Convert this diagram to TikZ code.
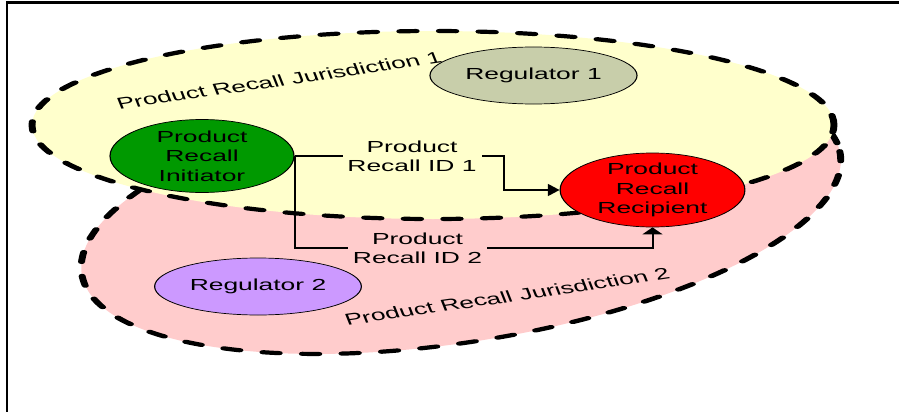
\documentclass[tikz,border=0pt]{standalone}
\usepackage{fontspec}
\setmainfont{Liberation Sans}
\usetikzlibrary{arrows.meta,shapes.geometric}

\definecolor{zoneA}{HTML}{FFFFCC}
\definecolor{zoneB}{HTML}{FFCCCC}
\definecolor{initgreen}{HTML}{009900}
\definecolor{recred}{HTML}{FF0000}
\definecolor{regA}{HTML}{C8CEAA}
\definecolor{regB}{HTML}{CC99FF}

\tikzset{
  zone/.style={line width=4.2pt, dash pattern=on 10pt off 14pt, line cap=round},
  party/.style={ellipse, draw=black, line width=0.7pt, inner xsep=0pt, inner ysep=-4pt,
    align=center, font=\fontsize{16}{19.3}\selectfont},
  idlabel/.style={align=center, inner sep=3pt, font=\fontsize{16}{19.3}\selectfont},
  zonelabel/.style={rotate=13.5, inner sep=0pt, font=\fontsize{16}{19.3}\selectfont},
  link/.style={line width=1.2pt, -{Triangle[length=7pt,width=12pt]}}
}

\begin{document}
\begin{tikzpicture}[x=1pt,y=1pt]
\useasboundingbox (0,0) rectangle (899,-412);

% page frame (top and left edges)
\draw[line width=2.6pt, line join=miter] (7,-412) -- (7,-2.5) -- (899,-2.5);

% the whole drawing is widened horizontally by a factor 1.65
\begin{scope}[transform canvas={xscale=1.65}, x=0.60606pt, y=1pt]

  % jurisdiction 2 (tilted ellipse)
  \filldraw[zone, fill=zoneB]
    plot[variable=\t, domain=0:355, samples=72, smooth cycle]
    ({461+384*cos(\t)*cos(9)-128*sin(\t)*sin(9)},
     {-214+384*cos(\t)*sin(9)+128*sin(\t)*cos(9)});

  % jurisdiction 1
  \filldraw[zone, fill=zoneA] (433,-125) ellipse [x radius=401, y radius=94];

  \node[zonelabel] (jur1) at (279,-80.5) {Product Recall Jurisdiction 1};
  \node[zonelabel] (jur2) at (507,-296.5) {Product Recall Jurisdiction 2};

  % parties
  \node[party, fill=initgreen, minimum width=111.5pt, minimum height=73pt]
    (init) at (202,-156) {Product\\Recall\\Initiator};
  \node[party, fill=recred, minimum width=112pt, minimum height=74pt]
    (recip) at (652.5,-190) {Product\\Recall\\Recipient};
  \node[party, fill=regA, minimum width=125.5pt, minimum height=57pt]
    (reg1) at (533.5,-75.5) {Regulator 1};
  \node[party, fill=regB, minimum width=125.3pt, minimum height=57pt]
    (reg2) at (258,-286.5) {Regulator 2};

  % recall messages
  \coordinate (bend1) at (504,-156);
  \coordinate (bend2) at (recip.south |- 0,-248);
  \draw[link] (init.east) -- (bend1) |- (recip.west);
  \draw[link] (init.east) |- (bend2) -- (recip.south);

  \node[idlabel, fill=zoneA] (id1) at (412,-156) {Product\\Recall ID 1};
  \node[idlabel, fill=zoneB] (id2) at (417.5,-248) {Product\\Recall ID 2};
\end{scope}
\end{tikzpicture}
\end{document}
